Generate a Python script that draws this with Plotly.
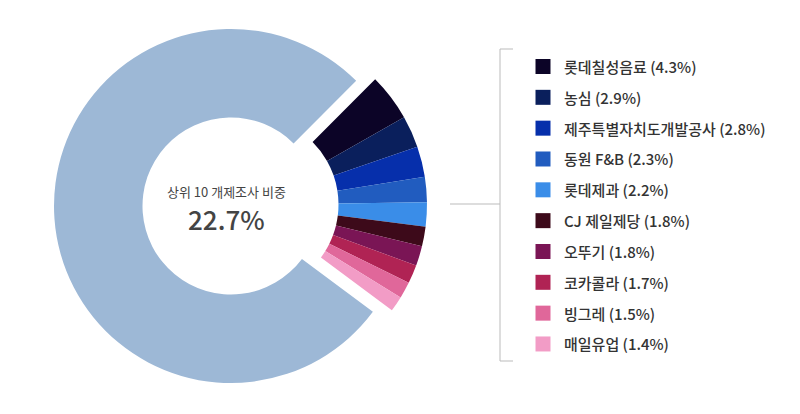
import plotly.graph_objects as go

# data
labels = ["롯데칠성음료", "농심", "제주특별자치도개발공사", "동원 F&B", "롯데제과",
          "CJ 제일제당", "오뚜기", "코카콜라", "빙그레", "매일유업"]
shares = [4.3, 2.9, 2.8, 2.3, 2.2, 1.8, 1.8, 1.7, 1.5, 1.4]
other_label = "기타"
other_share = 77.3
top10_total = 22.7

colors = ["#0c0427", "#0a1f5c", "#062fab", "#215cbf", "#3a8de8",
          "#3d0a1a", "#7a1555", "#b02354", "#e0679a", "#f29cc6"]
other_color = "#9db8d6"

all_labels = labels + [other_label]
all_values = shares + [other_share]
W, H = 800, 414

fig = go.Figure()

# big "other" slice
fig.add_trace(go.Pie(
    labels=all_labels, values=all_values, sort=False, direction="clockwise",
    rotation=45, hole=0.5, textinfo="none", showlegend=False,
    marker=dict(colors=["rgba(0,0,0,0)"] * len(labels) + [other_color], line=dict(width=0)),
    domain=dict(x=[54 / W, 408 / W], y=[31 / H, 385 / H]),
))

# top 10 slices, shifted out as a group
fig.add_trace(go.Pie(
    labels=all_labels, values=all_values, sort=False, direction="clockwise",
    rotation=45, hole=0.5, textinfo="none", showlegend=False,
    marker=dict(colors=colors + ["rgba(0,0,0,0)"], line=dict(width=0)),
    domain=dict(x=[73 / W, 427 / W], y=[32.5 / H, 386.5 / H]),
))

# legend drawn on a hidden pixel axis
leg_y = [66.5 + i * 30.83 for i in range(len(labels))]
fig.add_trace(go.Scatter(
    x=[543] * len(labels), y=leg_y, mode="markers", showlegend=False, hoverinfo="skip",
    marker=dict(symbol="square", size=15, color=colors, line=dict(width=0)),
))

annotations = []
for lab, val, y in zip(labels, shares, leg_y):
    annotations.append(dict(
        x=562, y=y, xref="x", yref="y", text=f"{lab} ({val}%)", showarrow=False,
        xanchor="left", yanchor="middle", font=dict(size=15, color="#333333", weight=500),
    ))

# center text
annotations.append(dict(x=226, y=191, xref="x", yref="y", text="상위 10 개제조사 비중",
                        showarrow=False, font=dict(size=13, color="#444444")))
annotations.append(dict(x=226, y=218, xref="x", yref="y", text=f"{top10_total}%",
                        showarrow=False, font=dict(size=26, color="#444444", weight=500)))

line_style = dict(color="#bbbbbb", width=1)
shapes = [
    dict(type="line", xref="x", yref="y", x0=500, x1=500, y0=49, y1=361, line=line_style),
    dict(type="line", xref="x", yref="y", x0=500, x1=513, y0=49, y1=49, line=line_style),
    dict(type="line", xref="x", yref="y", x0=500, x1=513, y0=361, y1=361, line=line_style),
    dict(type="line", xref="x", yref="y", x0=450, x1=500, y0=204, y1=204, line=line_style),
]

fig.update_layout(
    width=W, height=H,
    margin=dict(l=0, r=0, t=0, b=0),
    paper_bgcolor="white", plot_bgcolor="rgba(0,0,0,0)",
    font=dict(family="Noto Sans CJK KR"),
    xaxis=dict(range=[0, W], visible=False, fixedrange=True),
    yaxis=dict(range=[H, 0], visible=False, fixedrange=True),
    annotations=annotations, shapes=shapes,
)

fig.write_html("out.html", config=dict(displayModeBar=False),
               post_script="document.body.style.margin='0';")
